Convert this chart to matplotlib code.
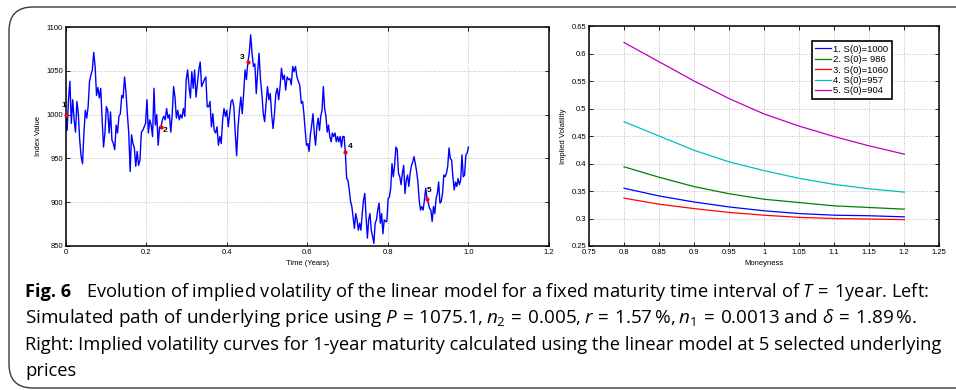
import numpy as np
import matplotlib
matplotlib.use('Agg')
import matplotlib.pyplot as plt
from matplotlib.patches import FancyBboxPatch

# simulated index path (two stretches)
path_a = [1000, 982, 1017, 1038, 990, 1017, 994, 980, 1015, 1001, 971, 952, 944, 979, 1005,
          996, 1009, 1038, 1045, 1051, 1071, 1055, 1022, 1031, 1019, 1030, 994, 963, 979, 1009,
          1005, 979, 1003, 971, 967, 960, 988, 979, 998, 1001, 1022, 1019, 1043, 1026, 1001,
          979, 935, 977, 967, 962, 941, 958, 942, 948, 980, 982, 986, 990, 1017, 979,
          994, 988, 975, 1030, 988, 1000, 965, 986, 986, 994, 998, 994, 1007, 996, 1000,
          980, 1000, 1032, 1020, 996, 1005, 994, 1000, 996, 1007, 998, 1040, 1051, 1032, 1019,
          1049, 1030, 1051, 1020, 1036, 1051, 1060, 1032, 1036, 1040, 1043, 1009, 1009, 1015, 986,
          1001, 982, 979, 986, 965, 975, 967, 994, 1007, 998, 1005, 986, 1001, 1015, 1017,
          1009, 979, 953, 986, 1005, 1020, 1001, 1024, 1051, 1040, 1060, 1070, 1091, 1070, 1055,
          1058, 1024, 1049, 1070, 1040, 1024, 1001, 992, 1013, 1032, 1017, 1024, 1000, 984, 1001,
          1024, 1030, 1017, 1032, 1053, 1040, 1045, 1028, 1043, 1040, 1041, 1034, 1055, 1049, 1055,
          1043, 1038, 1034]
path_b = [1013, 1015, 1001, 982, 965, 967, 958, 977, 988, 1001, 979, 965, 986, 996, 982,
          998, 1005, 1032, 1007, 998, 980, 988, 975, 969, 979, 975, 979, 969, 975, 969,
          975, 963, 975, 975, 957, 927, 925, 914, 901, 895, 883, 870, 887, 880, 868,
          876, 868, 887, 902, 910, 883, 859, 880, 887, 868, 861, 853, 876, 880, 891,
          899, 876, 887, 864, 880, 878, 878, 904, 906, 916, 944, 929, 942, 963, 960,
          933, 929, 920, 933, 942, 910, 925, 931, 918, 933, 942, 946, 952, 944, 935,
          923, 902, 891, 895, 891, 902, 916, 904, 899, 893, 891, 878, 895, 887, 904,
          910, 923, 899, 901, 910, 931, 929, 933, 941, 962, 950, 948, 929, 914, 923,
          918, 927, 920, 925, 954, 929, 931, 954, 956, 963]

# selected points (indices into the full path) and their labels
sel_idx = [0, 68, 130, 202, 265]
sel_names = ['1', '2', '3', '4', '5']
sel_offsets = [(-1.5, 6.5), (3.0, -2.5), (-3.8, 3.1), (3.8, 4.3), (1.7, 5.8)]

# implied volatility curves (right panel)
moneyness = [0.8, 0.85, 0.9, 0.95, 1.0, 1.05, 1.1, 1.15, 1.2]
iv_1000 = [0.355, 0.341, 0.330, 0.321, 0.314, 0.309, 0.306, 0.305, 0.303]
iv_986 = [0.394, 0.375, 0.358, 0.345, 0.335, 0.329, 0.323, 0.320, 0.317]
iv_1060 = [0.337, 0.326, 0.318, 0.311, 0.306, 0.302, 0.300, 0.299, 0.298]
iv_957 = [0.476, 0.450, 0.424, 0.403, 0.387, 0.373, 0.362, 0.354, 0.348]
iv_904 = [0.620, 0.585, 0.550, 0.518, 0.490, 0.468, 0.449, 0.432, 0.417]
curve_labels = ['1. S(0)=1000', '2. S(0)= 986', '3. S(0)=1060', '4. S(0)=957', '5. S(0)=904']
curve_colors = ['#0000ff', '#008000', '#ff0000', '#00bfbf', '#bf00bf']

plt.rcParams['font.family'] = ['Liberation Sans', 'DejaVu Sans']
plt.rcParams['mathtext.fontset'] = 'custom'
plt.rcParams['mathtext.rm'] = 'Open Sans'
plt.rcParams['mathtext.it'] = 'Open Sans:italic'

W, H = 956, 390
fig = plt.figure(figsize=(W / 100, H / 100), dpi=100)


def fx(px):
    return px / W


def fy(py):
    return 1 - py / H


grid_kw = dict(color='#a8a8a8', linestyle=(0, (1, 2)), linewidth=0.6)


def matlab_axes(ax):
    for s in ax.spines.values():
        s.set_linewidth(1.1)
    ax.tick_params(direction='in', length=3, width=0.6, labelsize=5.5, pad=2,
                   top=True, right=True)
    ax.grid(True, **grid_kw)
    ax.set_axisbelow(True)


# left panel
ax1 = fig.add_axes([fx(65.7), fy(246), fx(549) - fx(65.7), fy(27) - fy(246)])
t = np.concatenate([np.linspace(0, 0.581, len(path_a)), np.linspace(0.585, 1.0, len(path_b))])
S = np.array(path_a + path_b, dtype=float)
ax1.plot(t, S, color='#0000ff', lw=1.0)
ax1.plot(t[sel_idx], S[sel_idx], 'o', color='#ff0000', ms=3, mec='none', clip_on=False, zorder=5)
for i, name, off in zip(sel_idx, sel_names, sel_offsets):
    ax1.annotate(name, (t[i], S[i]), xytext=off, textcoords='offset points',
                 ha='center', va='center', fontsize=6, fontweight='bold')
ax1.set_xlim(0, 1.2)
ax1.set_ylim(850, 1100)
ax1.set_xticks([0, 0.2, 0.4, 0.6, 0.8, 1.0, 1.2])
ax1.set_xticklabels(['0', '0.2', '0.4', '0.6', '0.8', '1.0', '1.2'])
ax1.set_yticks([850, 900, 950, 1000, 1050, 1100])
ax1.set_xlabel('Time (Years)', fontsize=5.5, labelpad=3)
ax1.set_ylabel('Index Value', fontsize=5.5, labelpad=3)
matlab_axes(ax1)

# right panel
ax2 = fig.add_axes([fx(589), fy(246), fx(939.3) - fx(589), fy(26) - fy(246)])
for iv, lab, c in zip([iv_1000, iv_986, iv_1060, iv_957, iv_904], curve_labels, curve_colors):
    ax2.plot(moneyness, iv, color=c, lw=0.9, label=lab)
ax2.set_xlim(0.75, 1.25)
ax2.set_ylim(0.25, 0.65)
xt = np.arange(0.75, 1.2501, 0.05)
ax2.set_xticks(xt)
ax2.set_xticklabels(['%g' % round(v, 2) for v in xt])
yt = np.arange(0.25, 0.6501, 0.05)
ax2.set_yticks(yt)
ax2.set_yticklabels(['%g' % round(v, 2) for v in yt])
ax2.set_xlabel('Moneyness', fontsize=5.5, labelpad=3)
ax2.set_ylabel('Implied Volatility', fontsize=5.5, labelpad=3)
matlab_axes(ax2)
leg = ax2.legend(loc='upper left', bbox_to_anchor=(0.637, 0.93), fontsize=6.8,
                 handlelength=1.6, handletextpad=0.3, labelspacing=0.15,
                 borderpad=0.35, borderaxespad=0, fancybox=False, framealpha=1)
leg.get_frame().set_edgecolor('black')
leg.get_frame().set_linewidth(1.2)

# rounded frame around the figure
frame = FancyBboxPatch((fx(9), fy(388)), fx(990) - fx(9), fy(7) - fy(388),
                       boxstyle='round,pad=0,rounding_size=0.025', transform=fig.transFigure,
                       fill=False, edgecolor='#3a3a3a', linewidth=1.0, clip_on=False,
                       mutation_aspect=W / H)
fig.add_artist(frame)

# caption
cap_font = ['Open Sans', 'DejaVu Sans']
cap_lines = [
    r'Evolution of implied volatility of the linear model for a fixed maturity time interval of $T\,=\,$1year. Left:',
    r'Simulated path of underlying price using $P\,=\,1075.1,n_2\,=\,0.005,r\,=\,1.57\,\%,n_1\,=\,0.0013$ and $\delta\,=\,1.89\,\%$.',
    'Right: Implied volatility curves for 1-year maturity calculated using the linear model at 5 selected underlying',
    'prices',
]
cap_x = [86, 25, 25, 25]
cap_end = [930, 918, 935, None]
cap_base = [297, 323, 350, 376]

# fit each line's size so that it spans its width in the picture
sizes = []
for line, x, e in zip(cap_lines, cap_x, cap_end):
    if e is None:
        sizes.append(sizes[-1])
        continue
    probe = fig.text(0, 0, line, family=cap_font, fontsize=12)
    fig.canvas.draw()
    w = probe.get_window_extent().width
    probe.remove()
    sizes.append(12 * (e - x) / w)

fig.text(fx(25), fy(297), 'Fig. 6', family=cap_font, fontsize=sizes[0], fontweight='bold',
         va='baseline')
for line, x, b, s in zip(cap_lines, cap_x, cap_base, sizes):
    fig.text(fx(x), fy(b), line, family=cap_font, fontsize=s, va='baseline')

fig.savefig('out.png', dpi=100)
